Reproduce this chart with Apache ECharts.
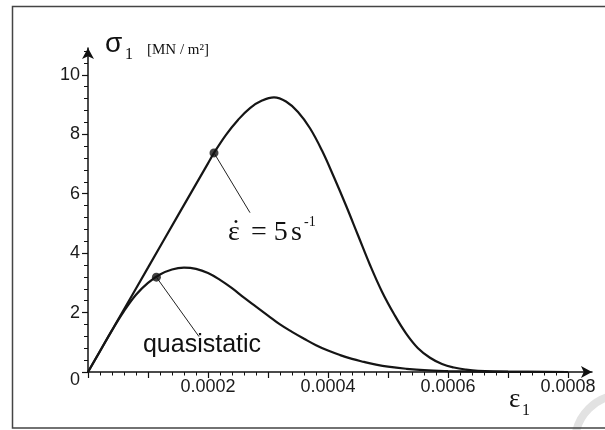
<!DOCTYPE html>
<html>
<head>
<meta charset="utf-8">
<script src="https://cdn.jsdelivr.net/npm/echarts@6/dist/echarts.min.js"></script>
<style>html,body{margin:0;padding:0;background:#fff}#c{width:605px;height:430px}</style>
</head>
<body>
<div id="c"></div>
<script>
// strain values (epsilon_1) and stress (sigma_1, MN/m^2)
const quasistatic = [
  [0,0],[0.00002,0.70],[0.00004,1.40],[0.00006,2.05],[0.00008,2.60],[0.0001,3.00],
  [0.00012,3.28],[0.00014,3.45],[0.00016,3.51],[0.00018,3.47],[0.0002,3.33],
  [0.00022,3.10],[0.00024,2.82],[0.00026,2.50],[0.00028,2.20],[0.0003,1.90],
  [0.00032,1.60],[0.00034,1.35],[0.00036,1.12],[0.00038,0.90],[0.0004,0.72],
  [0.00042,0.57],[0.00044,0.44],[0.00046,0.34],[0.00048,0.25],[0.0005,0.18],
  [0.00053,0.11],[0.00056,0.06],[0.0006,0.03],[0.00065,0.01],[0.0007,0.004],[0.0008,0]
];
const rate5 = [
  [0,0],[0.00005,1.76],[0.0001,3.51],[0.00015,5.27],[0.0002,7.02],[0.00021,7.37],
  [0.00023,7.98],[0.00025,8.48],[0.00027,8.88],[0.00029,9.13],[0.00031,9.24],
  [0.00033,9.10],[0.00035,8.75],[0.00037,8.20],[0.00039,7.45],[0.00041,6.55],
  [0.00043,5.60],[0.00045,4.60],[0.00047,3.60],[0.00049,2.70],[0.00051,1.95],
  [0.00053,1.30],[0.00055,0.80],[0.00057,0.48],[0.00059,0.27],[0.00061,0.15],
  [0.00063,0.08],[0.00065,0.04],[0.0007,0.01],[0.0008,0]
];
const markedPoints = [[0.00021,7.37],[0.000114,3.19]];
const leaderRate = [[0.00021,7.37],[0.000270,5.36]];
const leaderQuasi = [[0.000114,3.19],[0.000185,1.19]];
const xTickLabels = ['', '0.0002', '0.0004', '0.0006', '0.0008'];   // at 0, 0.0002, ... 0.0008
const yTickLabels = ['0', '2', '4', '6', '8', '10'];                 // at 0, 2, ... 10
const xMajorTicks = [0,0.0001,0.0002,0.0003,0.0004,0.0005,0.0006,0.0007,0.0008];
const yMajorTicks = [0,2,4,6,8,10];
const xMinorTicks = Array.from({length:41},(_,i)=>+(i*0.00002).toFixed(5));
const yMinorTicks = Array.from({length:28},(_,i)=>+(i*0.4).toFixed(1));

const AX = '#111';
const sans = 'Liberation Sans';
const serif = 'Liberation Serif';

const chart = echarts.init(document.getElementById('c'), null, {renderer:'canvas'});
chart.setOption({
  animation:false,
  backgroundColor:'#fff',
  grid:{left:88, right:13, top:48, bottom:58},
  xAxis:[{
    type:'value', min:0, max:0.00084, interval:0.0002,
    axisLine:{show:true, lineStyle:{color:AX, width:1.5}, symbol:['none','arrow'], symbolSize:[9,11]},
    axisTick:{show:true, customValues:xMajorTicks, length:6, lineStyle:{color:AX, width:1.2}},
    axisLabel:{show:true, showMaxLabel:false, margin:6,
      textStyle:{fontFamily:sans, fontSize:18, color:'#1a1a1a'},
      fontFamily:sans, fontSize:18, color:'#1a1a1a',
      formatter:v=>{const i=Math.round(v/0.0002); return (Math.abs(v-i*0.0002)<1e-9 && xTickLabels[i]!==undefined) ? xTickLabels[i] : '';}},
    splitLine:{show:false}
  },{
    type:'value', min:0, max:0.00084, position:'bottom',
    axisLine:{show:false},
    axisTick:{show:true, customValues:xMinorTicks, length:3.5, lineStyle:{color:AX, width:1}},
    axisLabel:{show:false}, splitLine:{show:false}
  }],
  yAxis:[{
    type:'value', min:0, max:10.9, interval:2,
    axisLine:{show:true, lineStyle:{color:AX, width:1.5}, symbol:['none','arrow'], symbolSize:[9,11]},
    axisTick:{show:true, customValues:yMajorTicks, length:6, lineStyle:{color:AX, width:1.2}},
    axisLabel:{show:true, showMaxLabel:false, margin:8,
      fontFamily:sans, fontSize:18, color:'#1a1a1a',
      formatter:v=>{const i=Math.round(v/2); if(Math.abs(v-i*2)>1e-9||yTickLabels[i]===undefined) return ''; return i===0 ? '{z|0}' : yTickLabels[i];},
      rich:{z:{fontFamily:sans, fontSize:18, color:'#1a1a1a', padding:[16,0,0,0]}}},
    splitLine:{show:false}
  },{
    type:'value', min:0, max:10.9, position:'left',
    axisLine:{show:false},
    axisTick:{show:true, customValues:yMinorTicks, length:4, lineStyle:{color:AX, width:1}},
    axisLabel:{show:false}, splitLine:{show:false}
  }],
  series:[
    {type:'line', data:rate5, smooth:0.4, showSymbol:false, lineStyle:{color:'#151515', width:2.2}},
    {type:'line', data:quasistatic, smooth:0.4, showSymbol:false, lineStyle:{color:'#151515', width:2.2}},
    {type:'line', data:leaderRate, showSymbol:false, lineStyle:{color:'#222', width:1}},
    {type:'line', data:leaderQuasi, showSymbol:false, lineStyle:{color:'#222', width:1}},
    {type:'scatter', data:markedPoints, symbolSize:9, itemStyle:{color:'#111'}, z:5}
  ],
  graphic:[
    {type:'circle', silent:true, z:-1, shape:{cx:622, cy:442, r:47}, style:{fill:'none', stroke:'#e2e2e2', lineWidth:8}},
    {type:'rect', silent:true, shape:{x:12.5, y:6.5, width:640, height:421.5}, style:{fill:'none', stroke:'#444', lineWidth:1.5}},
    {type:'text', x:105, y:44, style:{text:'σ', fontFamily:sans, fontSize:28, fill:'#111', align:'left', verticalAlign:'middle'}},
    {type:'text', x:125, y:55, style:{text:'1', fontFamily:serif, fontSize:16, fill:'#111', align:'left', verticalAlign:'middle'}},
    {type:'text', x:147, y:50, style:{text:'[MN / m²]', fontFamily:serif, fontSize:15, fill:'#111', align:'left', verticalAlign:'middle'}},
    {type:'text', x:509, y:400, style:{text:'ε', fontFamily:serif, fontSize:27, fill:'#111', align:'left', verticalAlign:'middle'}},
    {type:'text', x:522, y:411, style:{text:'1', fontFamily:serif, fontSize:16, fill:'#111', align:'left', verticalAlign:'middle'}},
    {type:'text', x:202, y:345, style:{text:'quasistatic', fontFamily:sans, fontSize:25, fill:'#111', align:'center', verticalAlign:'middle'}},
    {type:'text', x:228, y:233, style:{text:'ε', fontFamily:serif, fontSize:28, fill:'#111', align:'left', verticalAlign:'middle'}},
    {type:'text', x:236, y:231, style:{text:'˙', fontFamily:serif, fontSize:28, fill:'#111', align:'center', verticalAlign:'middle'}},
    {type:'text', x:251, y:233, style:{text:'= 5', fontFamily:serif, fontSize:28, fill:'#111', align:'left', verticalAlign:'middle'}},
    {type:'text', x:291, y:233, style:{text:'s', fontFamily:serif, fontSize:28, fill:'#111', align:'left', verticalAlign:'middle'}},
    {type:'text', x:304, y:222, style:{text:'-1', fontFamily:serif, fontSize:14, fill:'#111', align:'left', verticalAlign:'middle'}}
  ]
});
</script>
</body>
</html>
